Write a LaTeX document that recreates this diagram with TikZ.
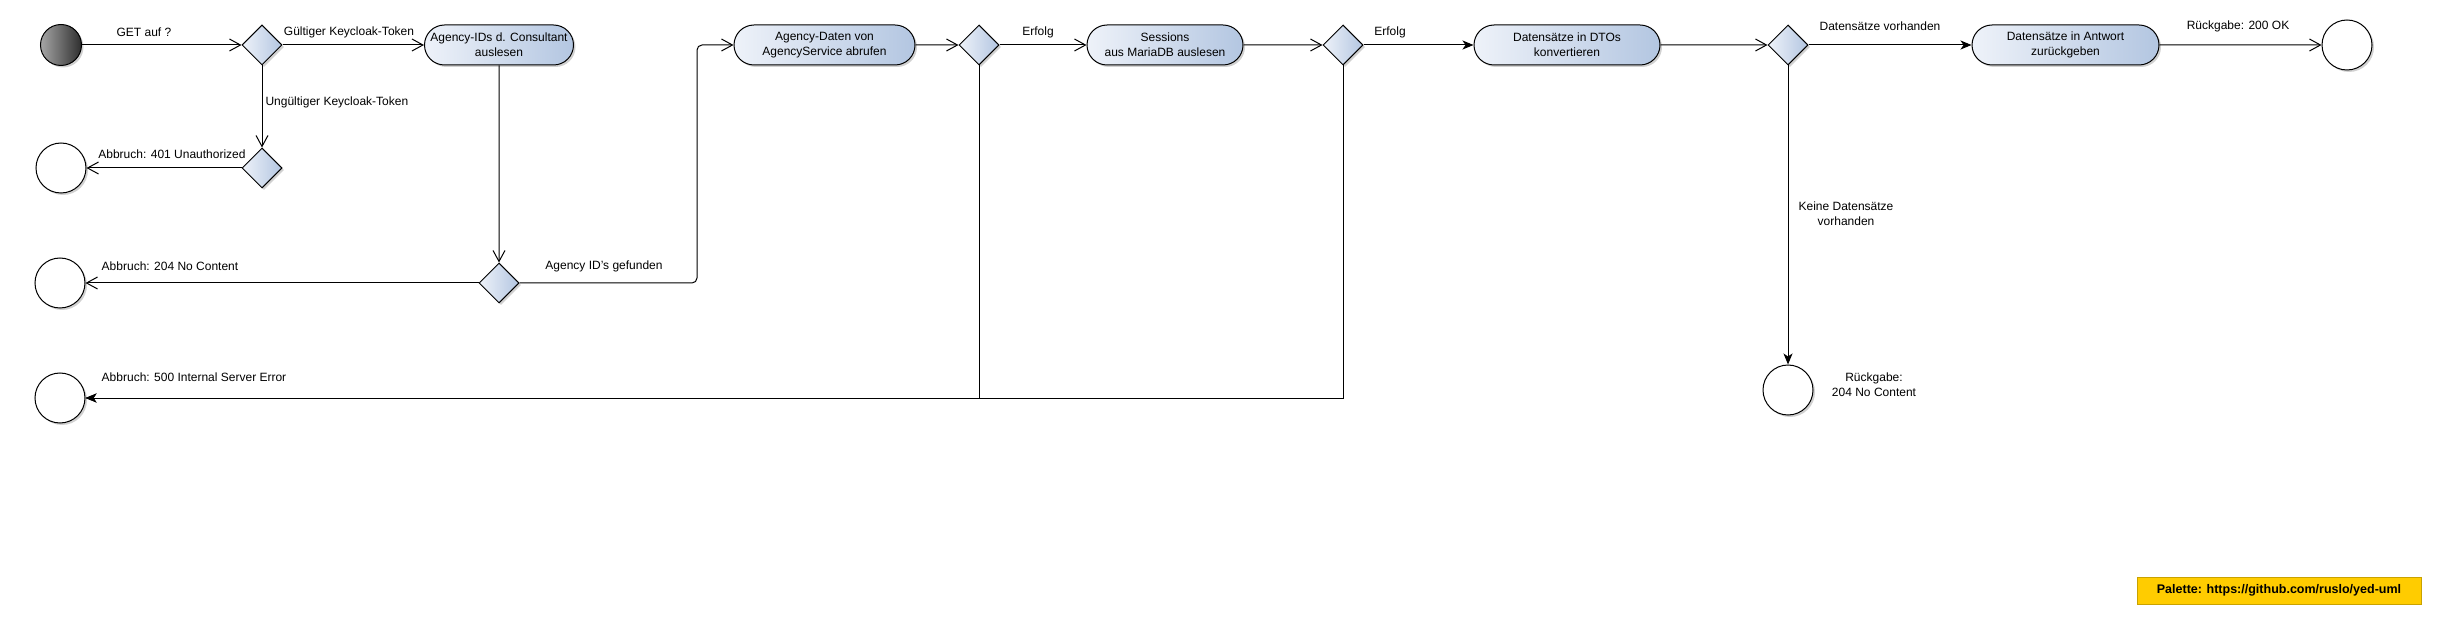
\documentclass[tikz,border=0pt]{standalone}
\usepackage{fontspec}
\setmainfont{Liberation Sans}
\usetikzlibrary{arrows.meta,shapes.geometric,shapes.misc,shadows}
\definecolor{nodeL}{HTML}{EEF2F9}
\definecolor{nodeR}{HTML}{B3C6E1}
\definecolor{pal}{HTML}{FFCC00}
\definecolor{palB}{HTML}{C9A200}
\begin{document}
\begin{tikzpicture}[x=1pt,y=-1pt,
  font=\fontsize{12}{15}\selectfont, line width=1pt,
  shad/.style={drop shadow={shadow xshift=2pt,shadow yshift=-2pt,opacity=0.18,fill=black}},
  act/.style={rounded rectangle, draw, left color=nodeL, right color=nodeR, minimum height=40pt, align=center, inner sep=0pt, shad},
  dec/.style={diamond, draw, left color=nodeL, right color=nodeR, minimum width=40pt, minimum height=40pt, inner sep=0pt, shad},
  fin/.style={circle, draw, fill=white, minimum size=50pt, inner sep=0pt, shad},
  lbl/.style={inner sep=0pt},
  openarr/.style={-{Straight Barb[length=11pt,width=12pt]}},
  fillarr/.style={-{Stealth[length=11pt,width=9pt,inset=3pt]}}]
\useasboundingbox (0,0) rectangle (2437,620);
% nodes
\node[circle, draw, minimum size=41pt, inner sep=0pt, left color=black!35, right color=black!82, shad] (start) at (61,45) {};
\node[dec] (d1) at (262,45) {};
\node[dec] (d2) at (262,168) {};
\node[fin] (e401) at (61,168) {};
\node[act, minimum width=149pt] (n1) at (499,45) {Agency-IDs d. Consultant\\auslesen};
\node[dec] (d3) at (499,283) {};
\node[fin] (e204) at (60,283) {};
\node[fin] (e500) at (60,398) {};
\node[act, minimum width=181pt] (n2) at (824.5,45) {Agency-Daten von\\AgencyService abrufen};
\node[dec] (d4) at (979,45) {};
\node[act, minimum width=156pt] (n3) at (1165,45) {Sessions\\aus MariaDB auslesen};
\node[dec] (d5) at (1343,45) {};
\node[act, minimum width=186pt] (n4) at (1567,45) {Datensätze in DTOs\\konvertieren};
\node[dec] (d6) at (1788,45) {};
\node[act, minimum width=187pt] (n5) at (2065.5,45) {Datensätze in Antwort\\zurückgeben};
\node[fin] (eok) at (2347,45) {};
\node[fin] (e204b) at (1788,390) {};
\coordinate (c1) at (697,45);
% connectors
\draw[openarr] (start) -- (d1);
\draw[openarr] (d1) -- (n1);
\draw[openarr] (d1) -- (d2);
\draw[openarr] (d2) -- (e401);
\draw[openarr] (n1) -- (d3);
\draw[openarr] (d3) -- (e204);
\draw[openarr, rounded corners=5pt] (d3.east) -| (c1) -- (n2.west);
\draw[openarr] (n2) -- (d4);
\draw[openarr] (d4) -- (n3);
\draw[openarr] (n3) -- (d5);
\draw[fillarr] (d5) -- (n4);
\draw[openarr] (n4) -- (d6);
\draw[fillarr] (d6) -- (n5);
\draw[openarr] (n5) -- (eok);
\draw[fillarr] (d6) -- (e204b);
\draw[fillarr] (d4.south) |- (e500.east);
\draw[fillarr] (d5.south) |- (e500.east);
% labels
\node[lbl] (l1) at (144,32) {GET auf ?};
\node[lbl] (l2) at (349,32) {Gültiger Keycloak-Token};
\node[lbl, anchor=west] (l3) at (265,102) {Ungültiger Keycloak-Token};
\node[lbl] (l4) at (172,154) {Abbruch: 401 Unauthorized};
\node[lbl] (l5) at (170,266) {Abbruch: 204 No Content};
\node[lbl] (l6) at (604,266) {Agency ID's gefunden};
\node[lbl] (l7) at (194,377) {Abbruch: 500 Internal Server Error};
\node[lbl] (l8) at (1038,32) {Erfolg};
\node[lbl] (l9) at (1390,32) {Erfolg};
\node[lbl] (l10) at (1880,26) {Datensätze vorhanden};
\node[lbl] (l11) at (2238,26) {Rückgabe: 200 OK};
\node[lbl, align=center] (l12) at (1846,214) {Keine Datensätze\\vorhanden};
\node[lbl, align=center] (l13) at (1874,385) {Rückgabe:\\204 No Content};
\node[draw=palB, fill=pal, minimum width=284pt, minimum height=27pt, inner sep=0pt,
  font=\fontsize{12.5}{15}\selectfont\bfseries] (pal) at (2279,590.5) {Palette: https://github.com/ruslo/yed-uml};
\end{tikzpicture}
\end{document}
